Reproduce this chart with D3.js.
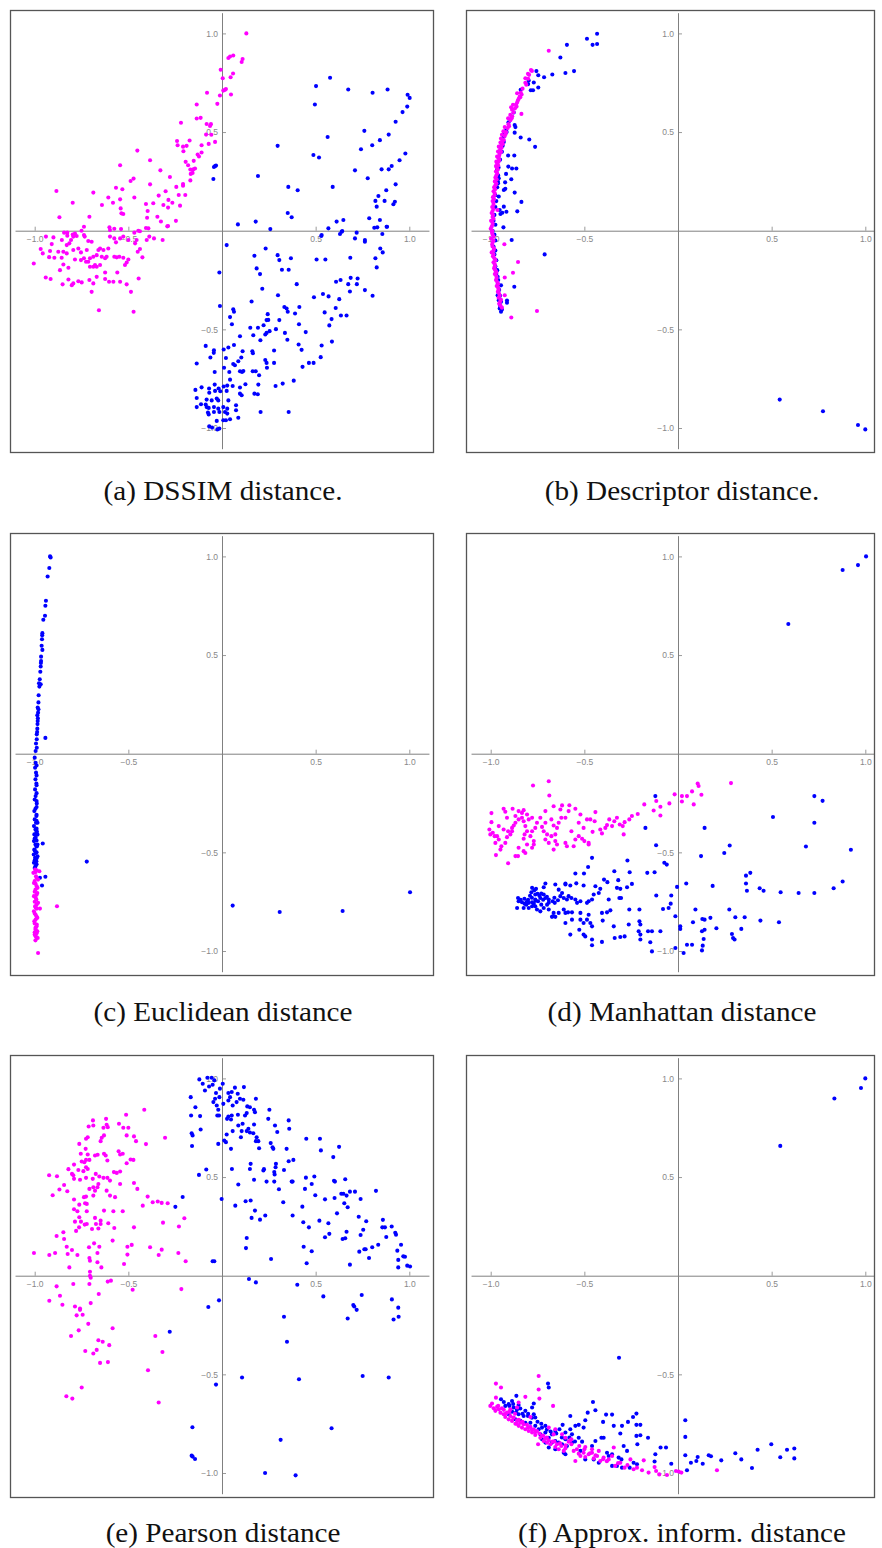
<!DOCTYPE html>
<html>
<head>
<meta charset="utf-8">
<script src="https://cdn.jsdelivr.net/npm/d3@7"></script>
<style>
body{margin:0;background:#fff;}
</style>
</head>
<body>
<div id="chart"></div>
<script>
// ---- data ----
let dssimMagenta = [[0.13,1.0],[0.034,0.875],[0.043,0.883],[0.06,0.888],[0.11,0.87],[0.105,0.855],[-0.007,0.816],[0.004,0.773],[0.059,0.797],[0.046,0.778],[0.048,0.69],[0.007,0.71],[0.016,0.714],[0.021,0.718],[-0.011,0.685],[-0.08,0.699],[-0.025,0.643],[-0.135,0.64],[-0.135,0.569],[-0.114,0.572],[-0.082,0.541],[-0.059,0.54],[-0.064,0.531],[-0.219,0.547],[-0.085,0.487],[-0.057,0.486],[-0.071,0.44],[-0.037,0.45],[-0.109,0.433],[-0.173,0.457],[-0.24,0.455],[-0.237,0.433],[-0.208,0.426],[-0.189,0.43],[-0.206,0.403],[-0.13,0.386],[-0.123,0.376],[-0.109,0.396],[-0.151,0.354],[-0.194,0.349],[-0.181,0.332],[-0.169,0.31],[-0.153,0.311],[-0.144,0.315],[-0.167,0.288],[-0.157,0.293],[-0.169,0.255],[-0.208,0.228],[-0.208,0.237],[-0.196,0.181],[-0.231,0.181],[-0.278,0.272],[-0.244,0.222],[-0.301,0.2],[-0.224,0.127],[-0.286,0.156],[-0.265,0.142],[-0.288,0.117],[-0.313,0.13],[-0.329,0.306],[-0.338,0.178],[-0.367,0.139],[-0.384,0.357],[-0.384,0.235],[-0.406,0.135],[-0.397,0.1],[-0.4,0.066],[-0.345,0.071],[-0.326,0.047],[-0.292,0.022],[-0.246,0.05],[-0.452,0.406],[-0.488,0.252],[-0.472,0.264],[-0.468,0.168],[-0.544,0.332],[-0.566,0.218],[-0.532,0.21],[-0.544,0.159],[-0.582,0.142],[-0.607,0.168],[-0.541,0.113],[-0.537,0.088],[-0.527,0.085],[-0.641,0.13],[-0.687,0.193],[-0.708,0.071],[-0.737,0.02],[-0.75,0],[-0.797,0.142],[-0.884,0.201],[-0.868,0.068],[-0.601,0.017],[-0.575,0.01],[-0.539,0.008],[-0.598,0.003],[-0.447,0],[-0.438,-0.003],[-0.406,0.014],[-0.393,0.012],[-0.468,-0.01],[-0.843,-0.01],[-0.826,-0.01],[-0.785,-0.014],
[-0.826,-0.025],[-0.797,-0.019],[-0.776,-0.027],[-0.737,-0.022],[-0.855,-0.047],[-0.806,-0.047],[-0.794,-0.03],[-0.733,-0.03],[-0.909,-0.068],[-0.829,-0.073],[-0.815,-0.064],[-0.968,-0.093],[-0.957,-0.115],[-0.918,-0.103],[-0.874,-0.107],[-0.847,-0.107],[-0.94,-0.03],[-0.9,-0.034],[-1.005,-0.166],[-0.923,-0.134],[-0.895,-0.137],[-0.856,-0.137],[-0.829,-0.115],[-0.794,-0.098],[-0.767,-0.09],[-0.753,-0.11],[-0.785,-0.146],[-0.753,-0.149],[-0.737,-0.14],[-0.726,-0.157],[-0.714,-0.157],[-0.705,-0.14],[-0.687,-0.132],[-0.669,-0.124],[-0.722,-0.098],[-0.714,-0.052],[-0.696,-0.056],[-0.651,-0.09],[-0.633,-0.098],[-0.607,-0.09],[-0.847,-0.171],[-0.865,-0.2],[-0.82,-0.188],[-0.705,-0.183],[-0.687,-0.183],[-0.678,-0.174],[-0.669,-0.183],[-0.941,-0.237],[-0.915,-0.245],[-0.851,-0.272],[-0.82,-0.247],[-0.802,-0.276],[-0.794,-0.267],[-0.767,-0.256],[-0.749,-0.262],[-0.708,-0.25],[-0.687,-0.267],[-0.696,-0.31],[-0.669,-0.234],[-0.66,-0.098],[-0.642,-0.132],[-0.624,-0.14],[-0.651,-0.174],[-0.624,-0.212],[-0.616,-0.132],[-0.598,-0.03],[-0.575,-0.039],[-0.566,-0.059],[-0.544,-0.039],[-0.527,-0.03],[-0.575,-0.132],[-0.562,-0.135],[-0.548,-0.132],[-0.527,-0.137],[-0.559,-0.212],[-0.518,-0.174],[-0.509,-0.161],[-0.5,-0.146],[-0.624,-0.245],[-0.603,-0.259],[-0.58,-0.259],[-0.544,-0.259],[-0.509,-0.272],[-0.486,-0.31],[-0.657,-0.403],[-0.472,-0.411],[-0.445,-0.242],[-0.425,-0.135],[-0.438,-0.093],[-0.45,-0.107],[-0.456,-0.047],[-0.464,-0.064],[-0.5,-0.047],[-0.402,-0.047],[-0.388,-0.03],[-0.363,-0.039],[-0.317,-0.047],[-0.288,0.024]];

let dssimBlue = [[0.502,0.733],[0.577,0.775],[0.674,0.716],[0.804,0.699],[0.884,0.716],[0.991,0.689],[1.002,0.673],[0.989,0.629],[0.496,0.64],[0.964,0.601],[0.927,0.552],[0.76,0.506],[0.89,0.487],[0.843,0.459],[0.802,0.433],[0.564,0.475],[0.297,0.43],[0.488,0.384],[0.518,0.371],[0.742,0.413],[0.979,0.391],[0.948,0.357],[0.906,0.328],[0.89,0.311],[0.852,0.311],[0.71,0.306],[0.778,0.266],[0.927,0.235],[0.877,0.205],[0.835,0.176],[0.819,0.151],[0.868,0.151],[0.915,0.134],[0.923,0.147],[0.826,0.122],[0.786,0.063],[0.843,0.054],[0.829,0.017],[0.879,0.02],[0.591,0.222],[0.354,0.222],[0.404,0.205],[0.192,0.277],[-0.043,0.323],[-0.037,0.328],[-0.032,0.33],[-0.046,0.262],[0.351,0.09],[0.372,0.068],[0.612,0.046],[0.648,0.054],[0.568,0.012],[0.085,0.032],[0.18,0.046],[0.258,0.008],[0.639,-0.005],[0.719,-0.01],[0.63,-0.017],[0.532,-0.022],
[0.53,-0.027],[0.642,-0.002],[0.71,-0.039],[0.763,-0.047],[0.763,-0.056],[0.813,0.015],[0.856,-0.017],[0.881,0.02],[0.025,-0.073],[-0.014,-0.212],[0.233,-0.09],[0.173,-0.127],[0.297,-0.124],[0.306,-0.149],[0.368,-0.14],[0.505,-0.146],[0.552,-0.146],[0.685,-0.137],[0.845,-0.09],[0.858,-0.11],[0.819,-0.14],[0.826,-0.186],[0.185,-0.191],[0.203,-0.22],[0.32,-0.198],[0.356,-0.198],[0.399,-0.271],[0.609,-0.259],[0.633,-0.25],[0.687,-0.239],[0.724,-0.242],[0.674,-0.271],[0.72,-0.271],[0.763,-0.301],[0.804,-0.33],[0.683,-0.308],[0.215,-0.294],[0.299,-0.327],[0.491,-0.337],[0.539,-0.321],[0.569,-0.333],[0.626,-0.347],[-0.011,-0.382],[0.158,-0.359],[0.333,-0.387],[0.345,-0.394],[0.351,-0.411],[0.39,-0.42],[0.413,-0.387],[0.607,-0.392],[0.548,-0.414],[0.585,-0.448],[0.635,-0.43],[0.665,-0.43],[0.06,-0.398],[0.064,-0.411],[0.043,-0.438],[0.053,-0.474],[0.244,-0.423],[0.238,-0.453],[0.247,-0.452],[0.306,-0.453],[0.222,-0.479],[0.411,-0.474],[0.447,-0.514],[0.573,-0.48],[0.532,-0.582],[0.587,-0.562],[0.151,-0.492],[0.192,-0.492],[0.167,-0.53],[0.254,-0.509],[0.238,-0.518],[0.231,-0.526],[0.205,-0.555],[0.288,-0.499],[0.336,-0.518],[0.349,-0.553],[0.409,-0.577],[0.425,-0.604],[0.096,-0.535],[0.064,-0.579],[0.034,-0.592],[0.009,-0.602],[-0.043,-0.606],[-0.087,-0.584],[0.11,-0.611],[0.162,-0.611],[0.165,-0.621],[0.278,-0.607],[-0.062,-0.643],[-0.044,-0.619],[-0.135,-0.673],[0.021,-0.645],[0.06,-0.676],[0.069,-0.682],[0.087,-0.662],[0.103,-0.643],[0.231,-0.655],[0.238,-0.67],[0.278,-0.67],[0.24,-0.695],[0.43,-0.69],[0.464,-0.67],[0.489,-0.67],[0.527,-0.641],[-0.039,-0.716],[0.011,-0.695],[0.039,-0.716],[0.096,-0.712],[0.107,-0.716],[0.114,-0.711],[0.164,-0.712],[0.18,-0.712],[0.198,-0.733],[0.383,-0.76],[0.043,-0.755],[-0.142,-0.807],[-0.109,-0.794],[-0.069,-0.8],[-0.039,-0.78],[-0.018,-0.8],[0.009,-0.79],[0.028,-0.785],[0.057,-0.787],[0.096,-0.795],[0.125,-0.778],[0.194,-0.78],[0.286,-0.787],[0.324,-0.775],[-0.135,-0.848],[-0.068,-0.821],[-0.037,-0.812],[-0.009,-0.814],[0.025,-0.812],[0.096,-0.826],[0.105,-0.834],[0.173,-0.826],[0.191,-0.829],[-0.135,-0.894],[-0.112,-0.88],[-0.087,-0.881],[-0.082,-0.856],[-0.055,-0.86],[-0.028,-0.851],[-0.02,-0.86],[0.034,-0.86],[-0.082,-0.894],[-0.071,-0.898],[-0.043,-0.894],[-0.02,-0.902],[0.007,-0.894],[0.028,-0.902],[0.075,-0.885],[-0.075,-0.922],[-0.071,-0.931],[-0.043,-0.919],[-0.014,-0.919],[0.016,-0.919],[0.028,-0.927],[0.075,-0.91],[-0.028,-0.964],[0.007,-0.961],[0.021,-0.961],[0.043,-0.956],[0.087,-0.948],[-0.068,-0.992],[-0.053,-0.998],[-0.025,-1.007],[-0.014,-1.003],[0.206,-0.919],[0.356,-0.919]];

let descBlue = [[0.543,-0.856],[0.774,-0.915],[0.961,-0.985],[1.0,-1.007],
[-0.432,0.998],[-0.432,0.946],[-0.456,0.942],[-0.486,0.973],[-0.593,0.942],[-0.628,0.878],[-0.555,0.809],[-0.601,0.799],[-0.671,0.792],[-0.715,0.778],[-0.746,0.788],[-0.756,0.809],[-0.77,0.751],[-0.797,0.761],[-0.8,0.743],[-0.746,0.726],[-0.774,0.712],[-0.786,0.712],[-0.84,0.714],[-0.877,0.599],[-0.872,0.536],[-0.868,0.525],[-0.872,0.497],[-0.84,0.472],[-0.794,0.462],[-0.763,0.425],[-0.918,0.508],[-0.93,0.477],[-0.936,0.43],[-0.93,0.491],[-0.907,0.381],[-0.874,0.381],[-0.906,0.325],[-0.886,0.315],[-0.863,0.315],[-0.918,0.288],[-0.89,0.261],[-0.923,0.245],[-0.93,0.206],[-0.922,0.212],[-0.872,0.193],[-0.836,0.146],[-0.93,0.122],[-0.858,0.098],[-0.916,0.096],[-0.938,0.091],[-0.948,0.085],[-0.932,0.017],[-0.957,0.266],[-0.961,0.24],[-0.966,0.308],[-0.957,0.173],[-0.952,0.105],
[-0.888,-0.047],[-0.712,-0.12],[-0.874,-0.284],[-0.945,-0.277],[-0.913,-0.354],[-0.913,-0.365],[-0.963,-0.327],[-0.957,-0.352],[-0.945,-0.411],[-0.952,-0.394],[-0.963,-0.234],[-0.972,-0.2],
[-0.905,0.55],[-0.915,0.5],[-0.93,0.45],[-0.94,0.4],[-0.95,0.36],[-0.958,0.32],[-0.96,0.28],[-0.962,0.25],[-0.965,0.22],[-0.975,0.18],[-0.97,0.15],[-0.975,0.12],[-0.98,0.08],[-0.985,0.05],[-0.975,0.03],[-0.99,0.0],[-0.98,-0.02],[-0.975,-0.05],[-0.985,-0.08],[-0.975,-0.1],[-0.98,-0.12],[-0.97,-0.15],[-0.975,-0.18],[-0.965,-0.2],[-0.97,-0.22],[-0.96,-0.25],[-0.962,-0.27],[-0.955,-0.3],[-0.95,-0.33],[-0.945,-0.36],[-0.95,-0.38],[-0.94,-0.4]];

let descMagenta = [[-0.89,-0.44],[-0.753,-0.407],[-0.927,-0.069],[-0.854,-0.159],[-0.881,-0.213],[-0.925,-0.237],[-0.925,-0.327],[-0.964,0.105],[-0.836,0.592],[-0.859,0.697],[-0.69,0.912],
[-0.785,0.814],[-0.801,0.795],[-0.815,0.773],[-0.842,0.677],[-0.851,0.668],[-0.859,0.65],[-0.881,0.638],[-0.891,0.626],[-0.886,0.613],[-0.895,0.587],[-0.907,0.57],[-0.925,0.525],[-0.932,0.504],[-0.94,0.486],[-0.945,0.467],[-0.948,0.447],[-0.957,0.426],[-0.961,0.401],[-0.966,0.376],[-0.97,0.35],[-0.972,0.328],
[-0.78,0.81],[-0.795,0.79],[-0.8,0.77],[-0.815,0.75],[-0.83,0.72],[-0.84,0.7],[-0.845,0.68],[-0.855,0.66],[-0.865,0.64],[-0.87,0.62],[-0.878,0.6],[-0.885,0.58],[-0.895,0.56],[-0.905,0.54],[-0.91,0.52],[-0.918,0.5],[-0.925,0.48],[-0.93,0.46],[-0.94,0.45],[-0.945,0.43],[-0.95,0.41],[-0.945,0.4],[-0.955,0.38],[-0.96,0.37],[-0.958,0.35],[-0.965,0.34],[-0.968,0.32],[-0.972,0.3],[-0.965,0.29],[-0.975,0.27],[-0.978,0.25],[-0.97,0.24],[-0.982,0.22],[-0.985,0.2],[-0.978,0.19],[-0.988,0.17],[-0.99,0.15],[-0.985,0.14],[-0.992,0.12],[-0.99,0.1],[-0.995,0.09],[-0.99,0.07],[-0.998,0.05],[-0.99,0.04],[-0.995,0.02],[-1.0,0.01],[-0.993,-0.01],[-0.99,-0.02],[-0.998,-0.04],[-0.985,-0.05],[-0.992,-0.07],[-0.99,-0.08],[-0.985,-0.1],[-0.995,-0.11],[-0.988,-0.13],[-0.98,-0.14],[-0.985,-0.16],[-0.978,-0.17],[-0.982,-0.19],[-0.975,-0.2],[-0.978,-0.22],[-0.97,-0.23],[-0.972,-0.25],[-0.965,-0.26],[-0.968,-0.28],[-0.96,-0.29],[-0.962,-0.31],[-0.955,-0.32],[-0.958,-0.34],[-0.95,-0.36],[-0.955,-0.37],
[-0.81,0.74],[-0.835,0.69],[-0.862,0.63],[-0.888,0.57],[-0.902,0.53],[-0.92,0.49],[-0.935,0.44],[-0.942,0.42],[-0.952,0.39],[-0.955,0.36],[-0.96,0.33],[-0.962,0.31],[-0.97,0.28],[-0.968,0.26],[-0.975,0.23],[-0.976,0.21],[-0.98,0.18],[-0.982,0.16],[-0.985,0.13],[-0.985,0.11],[-0.988,0.08],[-0.985,0.06],[-0.99,0.03],[-0.992,0.0],[-0.985,-0.03],[-0.99,-0.06],[-0.982,-0.09],[-0.985,-0.12],[-0.975,-0.15],[-0.978,-0.18],[-0.97,-0.21],[-0.968,-0.24],[-0.96,-0.27],[-0.958,-0.3],[-0.952,-0.33],[-0.945,-0.35],[-0.948,-0.38],[-0.94,-0.39]];

let euclidBlue = [[-0.918,1.0],[-0.915,0.995],[-0.922,0.941],[-0.931,0.898],[-0.94,0.775],[-0.943,0.75],[-0.945,0.699],[-0.954,0.679],[-0.959,0.611],[-0.96,0.6],[-0.961,0.58],[-0.963,0.547],[-0.959,0.526],[-0.966,0.492],[-0.966,0.47],[-0.967,0.46],[-0.968,0.442],[-0.97,0.415],[-0.973,0.377],[-0.977,0.357],[-0.968,0.352],[-0.975,0.34],[-0.979,0.296],[-0.98,0.26],[-0.984,0.234],[-0.98,0.225],[-0.982,0.208],[-0.986,0.195],[-0.983,0.18],[-0.984,0.166],[-0.985,0.15],[-0.986,0.127],[-0.987,0.11],[-0.989,0.098],[-0.943,0.08],[-0.989,0.073],[-0.993,0.052],[-0.989,0.03],[-0.995,0.014],
[-0.995,-0.046],[-0.998,-0.071],[-0.993,-0.096],[-0.996,-0.13],[-0.991,-0.151],[-0.998,-0.181],[-0.995,-0.215],[-1.0,-0.232],[-0.989,-0.252],[-0.996,-0.279],[-1.002,-0.291],[-0.991,-0.316],[-1.0,-0.333],[-0.993,-0.35],[-1.004,-0.367],[-0.996,-0.384],[-0.989,-0.393],[-1.002,-0.409],[-0.995,-0.426],[-1.004,-0.443],[-0.996,-0.46],[-0.989,-0.469],[-1.002,-0.486],[-0.995,-0.503],[-1.005,-0.511],[-0.998,-0.528],[-0.991,-0.545],[-1.004,-0.553],[-0.996,-0.57],[-1.0,-0.579],
[-0.99,-0.06],[-0.99,-0.11],[-0.99,-0.16],[-0.99,-0.2],[-0.99,-0.24],[-0.99,-0.27],[-0.99,-0.31],[-0.99,-0.34],[-0.99,-0.38],[-0.99,-0.4],[-0.99,-0.44],[-0.99,-0.47],[-0.99,-0.5],[-0.99,-0.53],[-0.99,-0.56],[-0.985,-0.41],[-0.985,-0.46],[-0.985,-0.52],[-0.985,-0.35],[-1.0,-0.02],[-1.0,-0.43],[-1.0,-0.49],[-1.0,-0.54],
[-0.957,-0.455],[-0.722,-0.547],[-0.972,-0.629],[-0.943,-0.624],[-0.961,-0.668],[0.057,-0.77],[0.308,-0.802],[0.644,-0.797],[1.004,-0.702]];

let euclidMagenta = [[-0.998,-0.587],[-0.989,-0.591],[-0.975,-0.596],[-1.007,-0.604],[-0.993,-0.621],[-0.982,-0.638],[-1.004,-0.655],[-0.989,-0.672],[-0.996,-0.689],[-0.986,-0.706],[-1.004,-0.722],[-0.991,-0.739],[-0.982,-0.756],[-0.998,-0.773],[-0.989,-0.785],[-1.004,-0.799],[-0.972,-0.785],[-0.995,-0.816],[-0.986,-0.832],[-1.002,-0.849],[-0.989,-0.866],[-0.996,-0.883],[-0.986,-0.9],[-1.0,-0.917],[-0.989,-0.931],[-0.996,-0.946],[-0.984,-0.934],
[-0.995,-0.6],[-0.99,-0.63],[-1.0,-0.645],[-0.995,-0.66],[-0.985,-0.68],[-1.0,-0.7],[-0.99,-0.715],[-0.995,-0.73],[-1.0,-0.75],[-0.99,-0.765],[-0.995,-0.78],[-1.0,-0.81],[-0.99,-0.825],[-0.995,-0.84],[-1.0,-0.86],[-0.99,-0.875],[-0.995,-0.89],[-1.0,-0.905],[-0.99,-0.91],[-0.995,-0.925],
[-0.881,-0.773],[-0.982,-1.01]];

let manhBlue = [[1.004,1.0],[0.961,0.956],[0.879,0.931],[0.589,0.657],
[-0.121,-0.215],[-0.174,-0.376],[0.142,-0.376],[-0.117,-0.464],[0.123,-0.519],[0.247,-0.503],[0.276,-0.465],[-0.073,-0.553],[-0.06,-0.562],[-0.125,-0.601],[-0.164,-0.604],[-0.27,-0.541],[-0.258,-0.601],[-0.459,-0.528],[-0.48,-0.574],[-0.502,-0.607],[-0.548,-0.607],[-0.34,-0.596],[-0.395,-0.638],[-0.377,-0.651],[-0.319,-0.641],[-0.326,-0.68],[-0.308,-0.685],[-0.246,-0.66],[-0.272,-0.677],[-0.543,-0.657],[-0.504,-0.668],[-0.441,-0.672],[-0.601,-0.663],[-0.575,-0.668],[-0.655,-0.663],[-0.708,-0.658],[-0.758,-0.685],[-0.779,-0.68],[-0.783,-0.702],[-0.767,-0.692],
[-0.415,-0.685],[-0.423,-0.706],[-0.45,-0.714],[-0.459,-0.739],[-0.477,-0.748],[-0.486,-0.756],[-0.521,-0.748],[-0.539,-0.756],[-0.548,-0.739],[-0.569,-0.731],[-0.593,-0.739],[-0.61,-0.731],[-0.619,-0.706],[-0.628,-0.722],[-0.641,-0.743],[-0.658,-0.756],[-0.669,-0.748],[-0.69,-0.739],[-0.708,-0.731],[-0.717,-0.714],[-0.73,-0.709],[-0.735,-0.731],[-0.747,-0.748],[-0.762,-0.739],[-0.779,-0.753],[-0.797,-0.756],[-0.806,-0.748],[-0.819,-0.76],[-0.833,-0.753],[-0.851,-0.748],[-0.854,-0.731],[-0.859,-0.782],[-0.824,-0.782],[-0.797,-0.782],[-0.779,-0.773],[-0.762,-0.773],[-0.753,-0.79],[-0.735,-0.799],[-0.717,-0.782],[-0.699,-0.765],[-0.69,-0.79],[-0.664,-0.807],[-0.673,-0.827],[-0.655,-0.827],[-0.637,-0.807],[-0.61,-0.79],[-0.587,-0.804],[-0.566,-0.804],[-0.521,-0.807],[-0.477,-0.816],[-0.468,-0.858],[-0.459,-0.875],[-0.406,-0.807],[-0.402,-0.846],[-0.379,-0.804],[-0.361,-0.794],[-0.313,-0.731],[-0.304,-0.731],[-0.37,-0.739],[-0.26,-0.79],[-0.263,-0.866],[-0.206,-0.79],[-0.206,-0.849],[-0.201,-0.866],[-0.21,-0.9],[-0.201,-0.917],[-0.201,-0.942],[-0.16,-0.9],[-0.139,-0.9],[-0.148,-0.956],[-0.139,-1.002],[-0.116,-0.719],[-0.094,-0.9],[-0.08,-0.787],[-0.05,-0.782],[-0.039,-0.76],[-0.036,-0.719],[-0.014,-0.824],[0.012,-0.875],[0.012,-0.888],[-0.014,-0.985],[0.03,-1.01],[0.048,-0.968],[0.075,-0.968],[0.08,-0.854],[0.093,-0.79],[0.13,-0.838],[0.128,-0.9],[0.142,-0.892],[0.142,-0.841],[0.173,-0.832],[0.137,-0.939],[0.132,-0.973],[0.128,-0.997],[0.205,-0.885],[0.185,-0.67],[0.044,-0.658],[-0.005,-0.675],[0.274,-0.79],[0.306,-0.829],[0.288,-0.914],[0.294,-0.934],[0.302,-0.942],[0.338,-0.888],[0.356,-0.829],[0.363,-0.618],[0.363,-0.658],[0.368,-0.695],[0.386,-0.604],[0.436,-0.682],[0.457,-0.695],[0.44,-0.846],[0.539,-0.854],[0.548,-0.702],[0.644,-0.706],[0.728,-0.706],[0.683,-0.47],[0.728,-0.35],[0.728,-0.215],[0.772,-0.239],[0.831,-0.682],[0.879,-0.648],[0.923,-0.487],[0.507,-0.321],[-0.575,-0.917],[-0.527,-0.892],[-0.504,-0.917],[-0.495,-0.926],[-0.459,-0.942],[-0.459,-0.971],[-0.406,-0.954],[-0.338,-0.934],[-0.308,-0.929],[-0.285,-0.926],[-0.343,-0.875],[-0.486,-0.841],[-0.521,-0.841],[-0.504,-0.858],[-0.601,-0.807],[-0.601,-0.858],[-0.566,-0.841],[-0.667,-0.824],[-0.601,-0.658],[-0.584,-0.722],[-0.637,-0.689],[-0.762,-0.714],[-0.717,-0.677],
[-0.84,-0.74],[-0.82,-0.735],[-0.8,-0.74],[-0.78,-0.73],[-0.76,-0.745],[-0.74,-0.72],[-0.72,-0.74],[-0.7,-0.725],[-0.81,-0.765],[-0.77,-0.76],[-0.73,-0.765],[-0.69,-0.755],[-0.66,-0.73],[-0.75,-0.71],[-0.79,-0.72]];

let manhMagenta = [[-0.69,-0.14],[-0.774,-0.161],[-0.687,-0.212],[-0.018,-0.206],[0.021,-0.215],[0.048,-0.215],[0.075,-0.191],[0.105,-0.151],[0.11,-0.164],[0.125,-0.208],[0.283,-0.149],[0.021,-0.242],[0.084,-0.257],[-0.116,-0.24],[-0.094,-0.269],[-0.046,-0.252],[-0.094,-0.313],[-0.13,-0.288],[-0.18,-0.257],[-0.215,-0.306],[-0.246,-0.316],[-0.26,-0.333],[-0.285,-0.347],[-0.295,-0.367],[-0.29,-0.409],[-0.311,-0.359],[-0.326,-0.325],[-0.34,-0.342],[-0.352,-0.367],[-0.367,-0.333],[-0.379,-0.362],[-0.388,-0.376],[-0.406,-0.404],[-0.415,-0.384],[-0.441,-0.296],[-0.456,-0.396],[-0.445,-0.342],[-0.468,-0.333],[-0.486,-0.333],[-0.504,-0.376],[-0.512,-0.431],[-0.477,-0.452],[-0.477,-0.46],[-0.5,-0.443],[-0.53,-0.418],[-0.548,-0.435],[-0.557,-0.469],[-0.593,-0.469],[-0.601,-0.452],[-0.569,-0.393],[-0.53,-0.35],[-0.584,-0.291],[-0.548,-0.279],[-0.521,-0.308],[-0.619,-0.262],[-0.58,-0.261],[-0.628,-0.283],[-0.664,-0.266],[-0.623,-0.325],[-0.601,-0.325],[-0.637,-0.35],[-0.646,-0.376],[-0.664,-0.364],[-0.655,-0.409],[-0.676,-0.418],[-0.655,-0.443],[-0.646,-0.46],[-0.664,-0.486],[-0.69,-0.452],[-0.708,-0.435],[-0.699,-0.409],[-0.717,-0.393],[-0.726,-0.371],[-0.708,-0.35],[-0.676,-0.333],[-0.708,-0.291],[-0.735,-0.325],[-0.753,-0.35],[-0.762,-0.376],[-0.779,-0.393],[-0.788,-0.418],[-0.77,-0.443],[-0.77,-0.46],[-0.779,-0.477],[-0.806,-0.46],[-0.824,-0.431],[-0.819,-0.409],[-0.806,-0.393],[-0.815,-0.367],[-0.824,-0.342],[-0.833,-0.325],[-0.851,-0.333],[-0.868,-0.35],[-0.877,-0.364],[-0.886,-0.376],[-0.886,-0.393],[-0.895,-0.409],[-0.907,-0.393],[-0.931,-0.384],[-0.957,-0.367],[-0.966,-0.418],[-0.957,-0.435],[-0.975,-0.452],[-0.943,-0.469],[-0.922,-0.452],[-0.913,-0.423],[-0.972,-0.514],[-0.948,-0.486],[-0.907,-0.555],[-0.868,-0.519],[-0.854,-0.519],[-0.851,-0.477],[-0.824,-0.494],[-0.815,-0.503],[-0.996,-0.301],[-0.996,-0.347],[-1.007,-0.384],[-0.989,-0.401],[-0.979,-0.418],[-1.002,-0.409],[-0.931,-0.279],[-0.922,-0.294],[-0.913,-0.325],[-0.883,-0.279],[-0.868,-0.316],[-0.851,-0.291],[-0.833,-0.3],[-0.824,-0.286],[-0.806,-0.308],[-0.797,-0.333],[-0.779,-0.325]];

let pearsonBlue = [[-0.121,0.995],[-0.103,0.973],[-0.091,0.939],[-0.069,0.959],[-0.05,0.968],[-0.041,0.99],[-0.078,1.003],[-0.055,1.003],[-0.011,0.948],[0.004,0.973],[-0.032,0.926],[-0.037,0.897],[-0.046,0.88],[-0.028,0.863],[-0.02,0.841],[-0.016,0.812],[-0.025,0.812],[-0.014,0.905],[0.007,0.871],[0.034,0.926],[0.043,0.905],[0.052,0.931],[0.034,0.888],[0.057,0.863],[0.078,0.88],[0.069,0.953],[0.117,0.956],[0.084,0.922],[0.096,0.897],[0.114,0.892],[0.135,0.858],[0.149,0.854],[0.181,0.897],[0.176,0.829],[0.171,0.841],[0.132,0.824],[0.123,0.812],[0.085,0.816],[0.052,0.812],[0.034,0.807],[0.027,0.795],[0.048,0.792],[0.11,0.77],[0.141,0.745],[0.132,0.733],[0.149,0.726],[0.105,0.733],[0.087,0.761],[0.101,0.702],[0.057,0.733],[0.025,0.716],[0.012,0.685],[0.021,0.677],[0.048,0.643],[0.167,0.722],[0.171,0.766],[0.185,0.702],[0.194,0.682],[0.181,0.682],[0.198,0.646],[0.247,0.795],[0.253,0.841],[0.283,0.761],[0.295,0.728],[0.356,0.787],[0.359,0.745],[-0.02,0.668],[-0.117,0.809],[-0.142,0.854],[-0.167,0.905],[-0.165,0.812],[-0.114,0.741],[-0.162,0.722],[-0.157,0.711],[-0.16,0.657],[0.26,0.672],[0.27,0.651],[0.274,0.643],[0.345,0.643],[0.381,0.587],[0.356,0.58],[0.45,0.694],[0.523,0.694],[0.528,0.635],[0.625,0.653],[0.594,0.601],[0.288,0.567],[0.286,0.55],[0.331,0.536],[0.279,0.525],[0.281,0.513],[0.153,0.567],[0.149,0.541],[0.224,0.54],[0.221,0.533],[0.053,0.541],[0.087,0.462],[0.171,0.486],[0.238,0.477],[0.279,0.477],[0.304,0.438],[0.372,0.477],[0.377,0.477],[0.448,0.497],[0.493,0.503],[0.479,0.465],[0.498,0.408],[0.443,0.44],[0.598,0.481],[0.603,0.477],[0.658,0.489],[0.637,0.415],[0.601,0.394],[0.648,0.415],[0.653,0.367],[0.683,0.426],[0.71,0.426],[0.671,0.347],[0.74,0.389],[0.665,0.406],[0.55,0.387],[0.822,0.43],[0.429,0.35],[0.327,0.372],[0.176,0.33],[0.153,0.381],[0.126,0.377],[0.071,0.355],[0.158,0.293],[0.203,0.284],[0.231,0.305],[0.377,0.305],[0.434,0.271],[0.464,0.245],[0.52,0.279],[0.568,0.266],[0.614,0.316],[0.665,0.223],[0.73,0.299],[0.77,0.276],[0.74,0.206],[0.754,0.233],[0.802,0.144],[0.834,0.157],[0.859,0.283],[0.856,0.245],[0.87,0.245],[0.906,0.249],[0.877,0.196],[0.925,0.218],[0.929,0.208],[0.956,0.157],[0.936,0.127],[0.968,0.098],[0.977,0.096],[0.941,0.08],[1.004,0.047],[0.989,0.051],[0.941,0.042],[0.76,0.134],[0.767,0.134],[0.733,0.122],[0.785,0.09],[0.683,0.056],[0.658,0.19],[0.644,0.186],[0.573,0.212],[0.55,0.195],[0.436,0.147],[0.479,0.124],[0.452,0.063],[0.262,0.085],[0.132,0.191],[0.128,0.14],[-0.041,0.073],[-0.05,0.073],[-0.002,0.389],[-0.21,0.399],[-0.249,0.349],[-0.084,0.538],[-0.123,0.511],
[0.144,-0.017],[0.181,-0.034],[0.402,-0.046],[0.541,-0.105],[0.746,-0.098],[0.701,-0.149],[0.706,-0.156],[0.719,-0.173],[0.671,-0.217],[0.907,-0.12],[0.941,-0.162],[0.916,-0.222],[0.943,-0.208],[0.331,-0.208],[0.347,-0.335],[-0.016,-0.125],[-0.073,-0.159],[-0.279,-0.284],[0.107,-0.516],[0.411,-0.525],[0.751,-0.508],[0.89,-0.516],[-0.032,-0.552],[-0.158,-0.768],[-0.162,-0.912],[-0.157,-0.917],[-0.144,-0.929],[0.585,-0.773],[0.313,-0.832],[0.23,-1.0],[0.393,-1.012]];

let pearsonMagenta = [[-0.415,0.841],[-0.512,0.816],[-0.304,0.699],[-0.406,0.667],[-0.689,0.787],[-0.712,0.756],[-0.687,0.761],[-0.619,0.795],[-0.616,0.765],[-0.61,0.753],[-0.633,0.75],[-0.63,0.711],[-0.642,0.699],[-0.648,0.682],[-0.55,0.77],[-0.527,0.75],[-0.5,0.75],[-0.509,0.711],[-0.47,0.706],[-0.459,0.682],[-0.726,0.694],[-0.717,0.702],[-0.762,0.668],[-0.754,0.618],[-0.728,0.643],[-0.717,0.614],[-0.735,0.575],[-0.749,0.579],[-0.726,0.587],[-0.708,0.587],[-0.678,0.609],[-0.664,0.613],[-0.63,0.618],[-0.621,0.609],[-0.612,0.584],[-0.552,0.631],[-0.544,0.614],[-0.53,0.618],[-0.488,0.589],[-0.473,0.587],[-0.509,0.57],[-0.79,0.563],[-0.726,0.55],[-0.717,0.541],[-0.74,0.53],[-0.767,0.536],[-0.801,0.516],[-0.794,0.509],[-0.82,0.54],[-0.843,0.46],[-0.868,0.437],[-0.923,0.509],[-0.881,0.504],[-0.904,0.408],[-0.826,0.428],[-0.79,0.491],[-0.758,0.486],[-0.726,0.496],[-0.69,0.491],[-0.674,0.516],[-0.655,0.503],[-0.633,0.496],[-0.66,0.465],[-0.665,0.448],[-0.612,0.496],[-0.577,0.525],[-0.562,0.521],[-0.544,0.528],[-0.544,0.465],[-0.598,0.482],[-0.687,0.448],[-0.678,0.431],[-0.708,0.44],[-0.726,0.401],[-0.737,0.398],[-0.722,0.364],[-0.731,0.367],[-0.79,0.386],[-0.762,0.36],[-0.687,0.406],[-0.616,0.431],[-0.598,0.406],[-0.571,0.398],[-0.47,0.47],[-0.452,0.44],[-0.397,0.401],[-0.37,0.372],[-0.343,0.376],[-0.322,0.369],[-0.29,0.367],[-0.423,0.355],[-0.79,0.337],[-0.772,0.327],[-0.722,0.327],[-0.762,0.296],[-0.785,0.274],[-0.753,0.274],[-0.733,0.259],[-0.722,0.262],[-0.678,0.293],[-0.673,0.262],[-0.648,0.279],[-0.648,0.262],[-0.63,0.33],[-0.607,0.266],[-0.58,0.327],[-0.53,0.327],[-0.575,0.242],[-0.66,0.239],[-0.694,0.237],[-0.763,0.245],[-0.779,0.227],[-0.847,0.22],[-0.843,0.186],[-0.883,0.201],[-0.829,0.147],[-0.801,0.13],[-0.772,0.105],[-0.824,0.11],[-0.891,0.115],[-0.922,0.105],[-1.004,0.115],[-0.71,0.144],[-0.683,0.164],[-0.655,0.147],[-0.665,0.115],[-0.708,0.09],[-0.705,0.076],[-0.665,0.068],[-0.644,0.042],[-0.705,0.02],[-0.705,0.0],[-0.815,0.042],[-0.584,0.178],[-0.505,0.147],[-0.482,0.156],[-0.505,0.107],[-0.523,0.059],[-0.384,0.144],[-0.322,0.132],[-0.338,0.105],[-0.233,0.115],[-0.194,0.073],[-0.47,0.245],[-0.315,0.269],[-0.23,0.249],[-0.201,0.291],
[-0.794,-0.042],[-0.708,-0.042],[-0.61,-0.03],[-0.593,-0.025],[-0.883,-0.054],[-0.865,-0.102],[-0.922,-0.127],[-0.852,-0.147],[-0.785,-0.156],[-0.758,-0.166],[-0.758,-0.173],[-0.776,-0.201],[-0.744,-0.198],[-0.658,-0.093],[-0.701,-0.139],[-0.714,-0.244],[-0.765,-0.277],[-0.806,-0.306],[-0.584,-0.266],[-0.66,-0.327],[-0.637,-0.335],[-0.602,-0.352],[-0.73,-0.382],[-0.687,-0.394],[-0.669,-0.376],[-0.651,-0.442],[-0.609,-0.438],[-0.477,-0.071],[-0.356,-0.306],[-0.318,-0.387],[-0.395,-0.479],[-0.749,-0.567],[-0.831,-0.611],[-0.799,-0.623],[-0.338,-0.643],[-0.217,-0.068],[-0.701,-0.01]];

let approxBlue = [[1.0,1.0],[0.977,0.951],[0.835,0.898],[0.546,0.658],[-0.315,-0.416],
[0.039,-0.733],[0.039,-0.817],[-0.16,-0.821],[-0.093,-0.871],[-0.064,-0.871],[-0.121,-0.905],[-0.125,-0.942],[-0.036,-0.953],[0.039,-0.91],[0.048,-0.986],[0.069,-0.948],[0.098,-0.939],[0.105,-0.919],[0.132,-0.953],[0.164,-0.91],[0.176,-0.915],[0.231,-0.936],[0.306,-0.9],[0.338,-0.931],[0.395,-0.975],[0.425,-0.882],[0.498,-0.854],[0.546,-0.92],[0.582,-0.882],[0.621,-0.876],[0.621,-0.926],
[-0.694,-0.547],[-0.69,-0.567],[-0.863,-0.609],[-0.945,-0.626],[-0.886,-0.635],[-0.904,-0.651],[-0.922,-0.66],[-0.877,-0.668],[-0.851,-0.655],[-0.842,-0.673],[-0.815,-0.685],[-0.77,-0.648],[-0.779,-0.668],[-0.77,-0.702],[-0.762,-0.719],[-0.801,-0.711],[-0.824,-0.711],[-0.851,-0.702],[-0.865,-0.694],[-0.886,-0.689],[-0.904,-0.702],[-0.868,-0.728],[-0.842,-0.736],[-0.815,-0.745],[-0.788,-0.745],[-0.762,-0.761],[-0.744,-0.778],[-0.726,-0.77],[-0.708,-0.761],[-0.708,-0.795],[-0.735,-0.804],[-0.69,-0.821],[-0.673,-0.804],[-0.655,-0.787],[-0.633,-0.778],[-0.616,-0.756],[-0.601,-0.795],[-0.575,-0.711],[-0.575,-0.778],[-0.566,-0.804],[-0.548,-0.761],[-0.53,-0.756],[-0.504,-0.77],[-0.495,-0.733],[-0.482,-0.694],[-0.454,-0.64],[-0.441,-0.682],[-0.4,-0.741],[-0.384,-0.704],[-0.352,-0.704],[-0.343,-0.761],[-0.299,-0.761],[-0.308,-0.8],[-0.267,-0.741],[-0.24,-0.716],[-0.222,-0.699],[-0.222,-0.756],[-0.201,-0.756],[-0.222,-0.812],[-0.201,-0.809],[-0.409,-0.821],[-0.397,-0.821],[-0.441,-0.838],[-0.459,-0.863],[-0.512,-0.841],[-0.53,-0.821],[-0.566,-0.846],[-0.593,-0.863],[-0.637,-0.846],[-0.655,-0.838],[-0.61,-0.897],[-0.601,-0.905],[-0.521,-0.888],[-0.495,-0.931],[-0.45,-0.931],[-0.423,-0.948],[-0.379,-0.897],[-0.37,-0.914],[-0.352,-0.905],[-0.317,-0.922],[-0.302,-0.931],[-0.29,-0.863],[-0.272,-0.888],[-0.258,-0.973],[-0.237,-0.948],[-0.219,-0.956],[-0.217,-0.854],[-0.352,-0.964],[-0.326,-0.964],[-0.299,-0.973],[-0.69,-0.871],[-0.708,-0.846],[-0.726,-0.829],[-0.673,-0.846],[-0.655,-0.88],[-0.601,-0.829],[-0.619,-0.854],
[-0.93,-0.64],[-0.9,-0.66],[-0.88,-0.65],[-0.86,-0.68],[-0.83,-0.7],[-0.8,-0.7],[-0.78,-0.72],[-0.75,-0.74],[-0.73,-0.75],[-0.7,-0.78],[-0.68,-0.79],[-0.65,-0.8],[-0.62,-0.82],[-0.58,-0.82],[-0.55,-0.84]];

let approxMagenta = [[-0.972,-0.547],[-0.945,-0.567],[-0.744,-0.508],[-0.744,-0.577],[-0.74,-0.623],[-0.667,-0.66],[-0.815,-0.614],[-0.972,-0.618],[-1.002,-0.66],[-0.993,-0.648],[-0.984,-0.672],[-0.975,-0.685],[-0.966,-0.665],[-0.957,-0.677],[-0.948,-0.694],[-0.94,-0.672],[-0.931,-0.702],[-0.922,-0.716],[-0.913,-0.694],[-0.904,-0.728],[-0.895,-0.711],[-0.886,-0.736],[-0.877,-0.719],[-0.868,-0.75],[-0.859,-0.733],[-0.851,-0.761],[-0.842,-0.745],[-0.833,-0.77],[-0.824,-0.753],[-0.815,-0.778],[-0.806,-0.756],[-0.797,-0.787],[-0.788,-0.766],[-0.779,-0.795],[-0.77,-0.778],[-0.762,-0.807],[-0.753,-0.787],[-0.747,-0.854],[-0.735,-0.821],[-0.726,-0.812],[-0.717,-0.838],[-0.708,-0.824],[-0.699,-0.846],[-0.69,-0.834],[-0.681,-0.854],[-0.669,-0.841],[-0.655,-0.868],[-0.646,-0.854],[-0.637,-0.88],[-0.623,-0.863],[-0.61,-0.888],[-0.601,-0.875],[-0.584,-0.841],[-0.569,-0.829],[-0.557,-0.888],[-0.548,-0.939],[-0.53,-0.902],[-0.521,-0.914],[-0.504,-0.897],[-0.495,-0.919],[-0.477,-0.905],[-0.459,-0.88],[-0.45,-0.926],[-0.432,-0.914],[-0.415,-0.939],[-0.397,-0.922],[-0.37,-0.931],[-0.352,-0.914],[-0.343,-0.871],[-0.335,-0.964],[-0.308,-0.948],[-0.285,-0.973],[-0.254,-0.931],[-0.237,-0.981],[-0.219,-0.973],[-0.183,-0.936],[-0.192,-0.986],[-0.157,-0.998],[-0.125,-0.97],[-0.117,-0.99],[-0.1,-1.007],[-0.059,-1.01],[-0.011,-0.99],[0.004,-0.993],[0.018,-0.998],[0.208,-0.986],[-0.664,-0.804],[-0.619,-0.804],[-0.655,-0.778],[-0.69,-0.77],[-0.788,-0.716],[-0.859,-0.668],[-0.895,-0.677],[-0.851,-0.643],[-0.601,-0.821],[-0.575,-0.834],[-0.569,-0.854],[-0.527,-0.863],[-0.495,-0.868],[-0.459,-0.897],[-0.423,-0.888],
[-0.96,-0.66],[-0.93,-0.68],[-0.9,-0.69],[-0.87,-0.7],[-0.92,-0.7],[-0.88,-0.72],[-0.85,-0.73],[-0.83,-0.74],[-0.86,-0.75],[-0.8,-0.77],[-0.78,-0.78],[-0.76,-0.79],[-0.74,-0.8],[-0.72,-0.81],[-0.7,-0.82],[-0.66,-0.84],[-0.63,-0.85],[-0.6,-0.86],[-0.54,-0.88],[-0.5,-0.88],[-0.47,-0.9],[-0.44,-0.91],[-0.4,-0.93],[-0.38,-0.94],[-0.32,-0.95],[-0.27,-0.96]];

let captions = ["(a) DSSIM distance.", "(b) Descriptor distance.", "(c) Euclidean distance", "(d) Manhattan distance", "(e) Pearson distance", "(f) Approx. inform. distance"];
let majorTicks = [-1, -0.5, 0.5, 1];
let minorTicks = [-0.9,-0.8,-0.7,-0.6,-0.4,-0.3,-0.2,-0.1,0.1,0.2,0.3,0.4,0.6,0.7,0.8,0.9];

// ---- layout ----
let width = 882, height = 1548;
let colLeft = [10, 466], colWidth = [424, 409];
let rowTop = [10, 533, 1055], panelH = 443;
let captionBase = [500, 1021, 1542], captionX = [223, 682];
let unitX = 187.3, unitY = 197.3, lim = 1.105;

let panels = [
  {blue: dssimBlue, magenta: dssimMagenta},
  {blue: descBlue, magenta: descMagenta},
  {blue: euclidBlue, magenta: euclidMagenta},
  {blue: manhBlue, magenta: manhMagenta},
  {blue: pearsonBlue, magenta: pearsonMagenta},
  {blue: approxBlue, magenta: approxMagenta}
];

let svg = d3.select("#chart").append("svg")
  .attr("width", width)
  .attr("height", height)
  .style("background", "#fff");

panels.forEach(function(p, i){
  let col = i % 2, row = Math.floor(i / 2);
  let left = colLeft[col], top = rowTop[row], w = colWidth[col];
  let ox = left + 212, oy = top + 220.7;

  let x = d3.scaleLinear().domain([-lim, lim]).range([ox - lim*unitX, ox + lim*unitX]);
  let y = d3.scaleLinear().domain([-lim, lim]).range([oy + lim*unitY, oy - lim*unitY]);

  svg.append("clipPath").attr("id", "clip" + i)
    .append("rect").attr("x", left).attr("y", top).attr("width", w).attr("height", panelH);

  let g = svg.append("g").attr("clip-path", "url(#clip" + i + ")");

  // x axis: ticks point up, labels below
  let xg = g.append("g").attr("transform", "translate(0," + y(0) + ")");
  xg.call(d3.axisBottom(x).tickValues(minorTicks).tickSizeInner(-2.2).tickSizeOuter(0).tickFormat(""));
  xg.call(d3.axisBottom(x).tickValues(majorTicks).tickSizeInner(-4).tickSizeOuter(0)
      .tickPadding(5).tickFormat(d3.format(".1f")));

  // y axis: ticks point right, labels left
  let yg = g.append("g").attr("transform", "translate(" + x(0) + ",0)");
  yg.call(d3.axisLeft(y).tickValues(minorTicks).tickSizeInner(-2.2).tickSizeOuter(0).tickFormat(""));
  yg.call(d3.axisLeft(y).tickValues(majorTicks).tickSizeInner(-4).tickSizeOuter(0)
      .tickPadding(4).tickFormat(d3.format(".1f")));

  g.selectAll(".domain").attr("stroke", "#808080").attr("stroke-width", 1);
  g.selectAll(".tick line").attr("stroke", "#808080").attr("stroke-width", 0.8);
  g.selectAll(".tick text")
    .attr("fill", "#888")
    .style("font-family", "Liberation Sans, Arial, sans-serif")
    .style("font-size", "8.5px");

  g.append("g")
    .selectAll("circle")
    .data(p.blue)
    .join("circle")
    .attr("cx", d => x(d[0]))
    .attr("cy", d => y(d[1]))
    .attr("r", 2.05)
    .attr("fill", "#0000ff");

  g.append("g")
    .selectAll("circle")
    .data(p.magenta)
    .join("circle")
    .attr("cx", d => x(d[0]))
    .attr("cy", d => y(d[1]))
    .attr("r", 2.05)
    .attr("fill", "#ff00ff");

  // frame
  svg.append("rect")
    .attr("x", left + 0.5).attr("y", top + 0.5)
    .attr("width", w - 1).attr("height", panelH - 1)
    .attr("fill", "none")
    .attr("stroke", "#555")
    .attr("stroke-width", 1.3);

  // caption
  svg.append("text")
    .attr("transform", "translate(" + captionX[col] + "," + captionBase[row] + ") scale(1.08,1)")
    .attr("text-anchor", "middle")
    .style("font-family", "Liberation Serif, Times New Roman, serif")
    .style("font-size", "27px")
    .attr("fill", "#111")
    .text(captions[i]);
});
</script>
</body>
</html>
